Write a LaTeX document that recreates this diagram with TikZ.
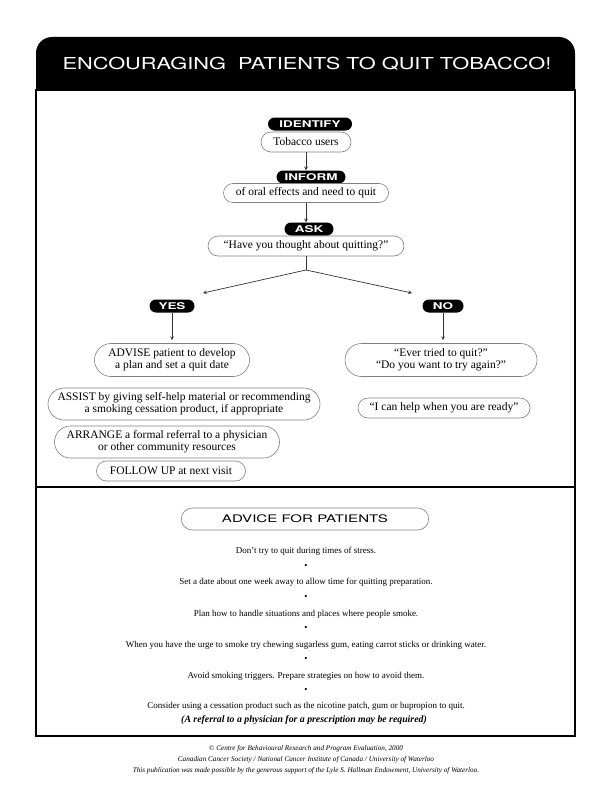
\documentclass[tikz,border=0pt]{standalone}
\usepackage{fontspec}
\setmainfont{Liberation Serif}
\newfontfamily\capsfont[FakeStretch=1.32]{TeX Gyre Heros}
\newfontfamily\tagfont[FakeStretch=1.45]{TeX Gyre Heros}
\newfontfamily\headfont[FakeStretch=1.45]{TeX Gyre Heros}
\usetikzlibrary{shapes.misc}

\tikzset{
  tag/.style={rounded rectangle, fill=black, text=white, inner sep=0pt,
    minimum height=13pt, font=\tagfont\bfseries\fontsize{9.3}{9.3}\selectfont},
  pill/.style={rounded rectangle, draw=black!50, line width=0.6pt, align=center,
    inner sep=0pt, minimum height=20pt, font=\fontsize{11.5}{12}\selectfont},
  link/.style={black!80, line width=0.7pt},
  tip/.style={font=\fontsize{9}{10}\selectfont},
  dot/.style={font=\fontsize{9}{9}\selectfont},
  credit/.style={font=\itshape\fontsize{7.2}{7.5}\selectfont},
}

\begin{document}
\begin{tikzpicture}[x=1pt, y=-1pt, >=stealth]
    \useasboundingbox (0,0) rectangle (612,792);

    % frame and header
    \fill[rounded corners=16pt] (36,37) rectangle (575,110);
    \draw[line width=1.6pt, fill=white] (36,90) rectangle (575,736);
    \draw[line width=1.6pt] (36,487) -- (575,487);
    \node[text=white, font=\capsfont\fontsize{16.5}{16.5}\selectfont] (title) at (307,64)
        {ENCOURAGING\ \ PATIENTS TO QUIT TOBACCO!};

    % flowchart
    \node[tag, minimum width=84pt] (identify) at (310,124) {IDENTIFY};
    \node[pill, minimum width=90pt] (tobacco) at (306,142) {Tobacco users};
    \node[tag, minimum width=69pt] (inform) at (311,177) {INFORM};
    \node[pill, minimum width=165pt, minimum height=19pt] (oral) at (306,193) {of oral effects and need to quit};
    \node[tag, minimum width=49pt] (ask) at (309,229) {ASK};
    \node[pill, minimum width=196pt] (question) at (306,246) {``Have you thought about quitting?''};

    \coordinate (split) at (306,270);
    \coordinate (yesend) at (203,293);
    \coordinate (noend) at (412,293);

    \node[tag, minimum width=45pt] (yes) at (172,306) {YES};
    \node[tag, minimum width=41pt] (no) at (443,306) {NO};

    \node[pill, minimum width=155pt, minimum height=33pt] (advise) at (172,360)
        {ADVISE patient to develop\\a plan and set a quit date};
    \node[pill, minimum width=272pt, minimum height=32pt] (assist) at (184,404)
        {ASSIST by giving self-help material or recommending\\a smoking cessation product, if appropriate};
    \node[pill, minimum width=225pt, minimum height=32pt] (arrange) at (167,442)
        {ARRANGE a formal referral to a physician\\or other community resources};
    \node[pill, minimum width=149pt] (followup) at (171,471) {FOLLOW UP at next visit};

    \node[pill, minimum width=192pt, minimum height=33pt] (evertried) at (441,360)
        {``Ever tried to quit?''\\``Do you want to try again?''};
    \node[pill, minimum width=172pt] (ready) at (444,408) {``I can help when you are ready''};

    \draw[->, link] (tobacco.south) -- (tobacco.south |- inform.north);
    \draw[->, link] (oral.south) -- (oral.south |- ask.north);
    \draw[link] (question.south) -- (split);
    \draw[->, link] (split) -- (yesend);
    \draw[->, link] (split) -- (noend);
    \draw[->, link, shorten >=3pt] (yes.south) -- (advise.north);
    \draw[->, link, shorten >=3pt] (no.south) -- (no.south |- evertried.north);

    % advice
    \node[rounded rectangle, draw=black!50, line width=0.6pt, minimum width=254pt, minimum height=22pt,
        font=\headfont\fontsize{10.4}{10.4}\selectfont] (advice) at (305,519) {ADVICE FOR PATIENTS};

    \node[tip] (tip1) at (306,551) {Don't try to quit during times of stress.};
    \node[dot] (dot1) at (306,566) {\textbullet};
    \node[tip] (tip2) at (306,582) {Set a date about one week away to allow time for quitting preparation.};
    \node[dot] (dot2) at (306,597) {\textbullet};
    \node[tip] (tip3) at (306,614) {Plan how to handle situations and places where people smoke.};
    \node[dot] (dot3) at (306,628) {\textbullet};
    \node[tip] (tip4) at (306,645) {When you have the urge to smoke try chewing sugarless gum, eating carrot sticks or drinking water.};
    \node[dot] (dot4) at (306,659) {\textbullet};
    \node[tip] (tip5) at (306,676) {Avoid smoking triggers. Prepare strategies on how to avoid them.};
    \node[dot] (dot5) at (306,690) {\textbullet};
    \node[tip] (tip6) at (306,706) {Consider using a cessation product such as the nicotine patch, gum or bupropion to quit.};
    \node[tip, font=\bfseries\itshape\fontsize{9.8}{10}\selectfont] (note) at (304,720)
        {(A referral to a physician for a prescription may be required)};

    % credits
    \node[credit] (credit1) at (306,749) {\textcopyright\ Centre for Behavioural Research and Program Evaluation, 2000};
    \node[credit] (credit2) at (306,760) {Canadian Cancer Society / National Cancer Institute of Canada / University of Waterloo};
    \node[credit] (credit3) at (306,771) {This publication was made possible by the generous support of the Lyle S. Hallman Endowment, University of Waterloo.};
\end{tikzpicture}
\end{document}
